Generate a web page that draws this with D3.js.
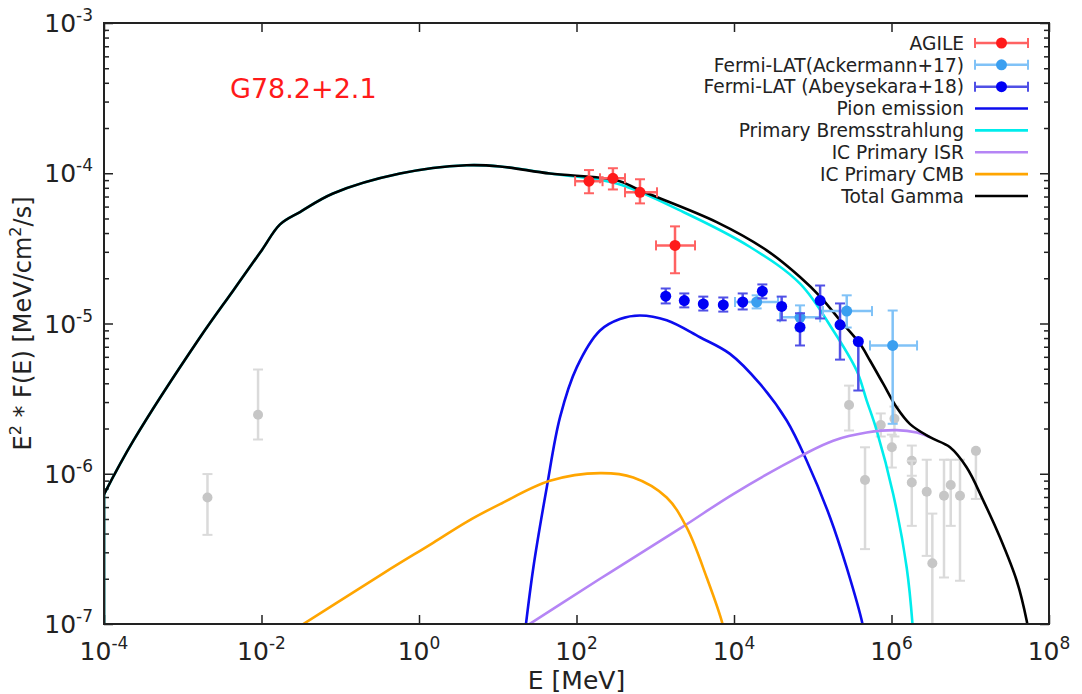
<!DOCTYPE html>
<html>
<head>
<meta charset="utf-8">
<script src="https://cdn.jsdelivr.net/npm/d3@7"></script>
<style>
  body { margin: 0; background: #fff; }
  text { font-family: 'DejaVu Sans', sans-serif; fill: #222; }
</style>
</head>
<body>
<svg id="chart" width="1082" height="694"></svg>
<script>
// axis ticks
const xTicks = [1e-4, 1e-2, 1, 1e2, 1e4, 1e6, 1e8];
const yTicks = [1e-7, 1e-6, 1e-5, 1e-4, 1e-3];

// data points: [E, F, Elo, Ehi, Flo, Fhi]
const agile = [
  [144, 8.85e-5, 96, 214, 7.36e-5, 1.05e-4],
  [290, 9.26e-5, 199, 413, 7.8e-5, 1.08e-4],
  [640, 7.47e-5, 413, 1052, 6.3e-5, 9.12e-5],
  [1782, 3.31e-5, 1023, 3200, 2.16e-5, 4.43e-5]
];
const ackermann = [
  [1.94e4, 1.39e-5, 1.03e4, 3.62e4, 1.26e-5, 1.54e-5],
  [6.89e4, 1.10e-5, 3.84e4, 1.24e5, 8.98e-6, 1.32e-5],
  [2.7e5, 1.21e-5, 1.35e5, 5.65e5, 9.4e-6, 1.54e-5],
  [1.035e6, 7.14e-6, 5.33e5, 2.11e6, 2.15e-6, 1.22e-5]
];
const abeysekara = [
  [1358, 1.52e-5, null, null, 1.36e-5, 1.71e-5],
  [2338, 1.42e-5, null, null, 1.28e-5, 1.585e-5],
  [4074, 1.35e-5, null, null, 1.22e-5, 1.51e-5],
  [7311, 1.33e-5, null, null, 1.20e-5, 1.49e-5],
  [1.29e4, 1.39e-5, null, null, 1.24e-5, 1.585e-5],
  [2.29e4, 1.64e-5, null, null, 1.47e-5, 1.82e-5],
  [4.03e4, 1.30e-5, null, null, 1.05e-5, 1.51e-5],
  [6.89e4, 9.45e-6, null, null, 7.14e-6, 1.17e-5],
  [1.24e5, 1.42e-5, null, null, 1.08e-5, 1.79e-5],
  [2.22e5, 9.8e-6, null, null, 5.75e-6, 1.36e-5],
  [3.79e5, 7.59e-6, null, null, 3.58e-6, 7.59e-6]
];
const oldData = [
  [2.06e-3, 6.95e-7, null, null, 3.92e-7, 9.95e-7],
  [9.04e-3, 2.47e-6, null, null, 1.69e-6, 4.94e-6],
  [2.89e5, 2.87e-6, null, null, 1.94e-6, 3.86e-6],
  [4.61e5, 9.08e-7, null, null, 3.15e-7, 1.50e-6],
  [7.3e5, 2.11e-6, null, null, 1.77e-6, 2.52e-6],
  [1.01e6, 1.50e-6, null, null, 1.10e-6, 1.82e-6],
  [1.09e6, 2.32e-6, null, null, 1.77e-6, 2.8e-6],
  [1.81e6, 1.22e-6, null, null, 9.7e-7, 1.54e-6],
  [1.81e6, 8.75e-7, null, null, 4.5e-7, 1.22e-6],
  [2.8e6, 7.59e-7, null, null, 2.84e-7, 1.24e-6],
  [3.3e6, 2.54e-7, null, null, 8e-8, 5.43e-7],
  [4.64e6, 7.13e-7, null, null, 2.04e-7, 1.24e-6],
  [5.65e6, 8.41e-7, null, null, 4.5e-7, 1.24e-6],
  [7.41e6, 7.13e-7, null, null, 1.94e-7, 1.24e-6],
  [1.18e7, 1.42e-6, null, null, 6.8e-7, 1.42e-6]
];

// model curves: [E, E^2 F(E)]
const pion = [
  [21.5, 7.7e-8], [28.3, 2.37e-7], [41.9, 8.1e-7], [61.7, 2.37e-6], [101, 5.12e-6],
  [199, 8.98e-6], [356, 1.07e-5], [640, 1.13e-5], [1397, 1.05e-5], [3700, 8.1e-6],
  [8890, 6.28e-6], [2.14e4, 3.96e-6], [4.67e4, 2.26e-6], [8.38e4, 1.22e-6],
  [1.66e5, 5.12e-7], [2.7e5, 2.37e-7], [4.31e5, 9.85e-8], [4.6e5, 7.7e-8]
];
const brems = [
  [1e-4, 7.3e-7], [2.36e-4, 1.66e-6], [1.66e-3, 8.1e-6], [4.38e-3, 1.66e-5], [0.01014, 3.09e-5],
  [0.0172, 4.57e-5], [0.0308, 5.52e-5], [0.081, 7.33e-5], [0.574, 9.95e-5], [4.04, 1.13e-4],
  [10.7, 1.11e-4], [46, 9.95e-5], [324, 8.54e-5], [2270, 5.52e-5], [1.6e4, 3.23e-5],
  [6.89e4, 1.84e-5], [1.82e5, 8.98e-6], [3.61e5, 4.86e-6], [4.84e5, 3.07e-6], [6.49e5, 1.94e-6],
  [1.05e6, 7.33e-7], [1.56e6, 2.37e-7], [1.86e6, 9.55e-8], [1.95e6, 6e-8]
];
const icIsr = [
  [11.7, 7.7e-8], [199, 2.0e-7], [2168, 4.39e-7], [9790, 7.33e-7], [7.59e4, 1.34e-6],
  [1.82e5, 1.66e-6], [4.84e5, 1.88e-6], [1.16e6, 1.95e-6], [2.09e6, 1.88e-6], [3.08e6, 1.75e-6]
];
const icCmb = [
  [0.01556, 7.7e-8], [0.36, 2.19e-7], [1.51, 3.47e-7], [4.04, 4.79e-7], [10.7, 6.28e-7],
  [46, 8.98e-7], [199, 1.01e-6], [526, 9.45e-7], [1397, 6.95e-7], [2506, 4.39e-7],
  [4500, 2.04e-7], [7200, 9.85e-8], [7690, 7.7e-8]
];
const totalGamma = [
  [1e-4, 7.3e-7], [2.36e-4, 1.66e-6], [1.66e-3, 8.1e-6], [4.38e-3, 1.66e-5], [0.01014, 3.09e-5],
  [0.0172, 4.57e-5], [0.0308, 5.52e-5], [0.081, 7.33e-5], [0.574, 9.95e-5], [4.04, 1.13e-4],
  [10.7, 1.11e-4], [46, 9.95e-5], [324, 8.98e-5], [640, 7.7e-5], [6030, 4.73e-5], [2.6e4, 3.07e-5],
  [6.89e4, 2.04e-5], [1.26e5, 1.5e-5], [2.22e5, 1.05e-5], [3.98e5, 7.33e-6],
  [5.33e5, 5.67e-6], [7.87e5, 3.96e-6], [1.16e6, 2.77e-6], [1.72e6, 2.14e-6],
  [3.08e6, 1.75e-6], [5.53e6, 1.5e-6], [9.02e6, 1.1e-6], [1.47e7, 6.6e-7],
  [2.39e7, 3.76e-7], [3.89e7, 1.94e-7], [5.21e7, 1.05e-7], [5.74e7, 7.7e-8]
];

const pointSeries = [
  {name: 'AGILE', data: agile, dot: '#ff1a1a', bar: '#ff6262'},
  {name: 'Fermi-LAT(Ackermann+17)', data: ackermann, dot: '#3a9ff0', bar: '#80c2f7'},
  {name: 'Fermi-LAT (Abeysekara+18)', data: abeysekara, dot: '#0000f5', bar: '#5050e6'}
];
const curveSeries = [
  {name: 'Pion emission', data: pion, color: '#0c0cee'},
  {name: 'Primary Bremsstrahlung', data: brems, color: '#00ecec'},
  {name: 'IC Primary ISR', data: icIsr, color: '#b585f5'},
  {name: 'IC Primary CMB', data: icCmb, color: '#ffa500'},
  {name: 'Total Gamma', data: totalGamma, color: '#000000'}
];

const svg = d3.select('#chart');
const plotL = 104, plotR = 1049, plotT = 23, plotB = 624;
const x = d3.scaleLog().domain([1e-4, 1e8]).range([plotL, plotR]);
const y = d3.scaleLog().domain([1e-7, 1e-3]).range([plotB, plotT]);

svg.append('defs').append('clipPath').attr('id', 'plotClip')
  .append('rect').attr('x', plotL).attr('y', plotT)
  .attr('width', plotR - plotL).attr('height', plotB - plotT);

// ticks (pointing inwards, mirrored on all sides)
const minorY = [];
for (let e = -7; e < -3; e++) {
  for (let k = 2; k <= 9; k++) minorY.push(k * Math.pow(10, e));
}
function tickStyle(g) {
  g.select('.domain').remove();
  g.selectAll('text').remove();
  g.selectAll('line').attr('stroke', '#222').attr('stroke-width', 1.5);
}
svg.append('g').attr('transform', `translate(0,${plotB})`)
  .call(d3.axisBottom(x).tickValues(xTicks).tickSize(-9)).call(tickStyle);
svg.append('g').attr('transform', `translate(0,${plotT})`)
  .call(d3.axisTop(x).tickValues(xTicks).tickSize(-9)).call(tickStyle);
svg.append('g').attr('transform', `translate(${plotL},0)`)
  .call(d3.axisLeft(y).tickValues(yTicks).tickSize(-9)).call(tickStyle);
svg.append('g').attr('transform', `translate(${plotL},0)`)
  .call(d3.axisLeft(y).tickValues(minorY).tickSize(-5)).call(tickStyle);
svg.append('g').attr('transform', `translate(${plotR},0)`)
  .call(d3.axisRight(y).tickValues(yTicks).tickSize(-9)).call(tickStyle);
svg.append('g').attr('transform', `translate(${plotR},0)`)
  .call(d3.axisRight(y).tickValues(minorY).tickSize(-5)).call(tickStyle);

// tick labels as 10^n
function powLabel(sel) {
  sel.each(function(d) {
    const t = d3.select(this);
    t.append('tspan').text('10');
    t.append('tspan').attr('dy', -11).attr('font-size', 17).text(Math.round(Math.log10(d)));
  });
}
svg.append('g').selectAll('text').data(xTicks).join('text')
  .attr('x', d => x(d)).attr('y', 660).attr('text-anchor', 'middle')
  .attr('font-size', 25).call(powLabel);
svg.append('g').selectAll('text').data(yTicks).join('text')
  .attr('x', 93).attr('y', d => y(d) + 9).attr('text-anchor', 'end')
  .attr('font-size', 25).call(powLabel);

// axis titles
svg.append('text').attr('x', (plotL + plotR) / 2).attr('y', 689)
  .attr('text-anchor', 'middle').attr('font-size', 25).text('E [MeV]');
const yTitle = svg.append('text')
  .attr('transform', `translate(31,${(plotT + plotB) / 2}) rotate(-90)`)
  .attr('text-anchor', 'middle').attr('font-size', 24);
yTitle.append('tspan').text('E');
yTitle.append('tspan').attr('dy', -10).attr('font-size', 16).text('2');
yTitle.append('tspan').attr('dy', 10).text(' * F(E) [MeV/cm');
yTitle.append('tspan').attr('dy', -10).attr('font-size', 16).text('2');
yTitle.append('tspan').attr('dy', 10).text('/s]');

const plot = svg.append('g').attr('clip-path', 'url(#plotClip)');

function drawPoints(g, data, dotColor, barColor, r) {
  const pts = g.append('g').selectAll('g').data(data).join('g');
  pts.append('line')
    .attr('x1', d => x(d[0])).attr('x2', d => x(d[0]))
    .attr('y1', d => y(d[4])).attr('y2', d => y(d[5]))
    .attr('stroke', barColor).attr('stroke-width', 2.5);
  pts.each(function(d) {
    const p = d3.select(this);
    for (const v of [d[4], d[5]]) {
      p.append('line').attr('x1', x(d[0]) - 5).attr('x2', x(d[0]) + 5)
        .attr('y1', y(v)).attr('y2', y(v))
        .attr('stroke', barColor).attr('stroke-width', 2);
    }
    if (d[2] != null) {
      p.append('line').attr('x1', x(d[2])).attr('x2', x(d[3]))
        .attr('y1', y(d[1])).attr('y2', y(d[1]))
        .attr('stroke', barColor).attr('stroke-width', 2.5);
      for (const v of [d[2], d[3]]) {
        p.append('line').attr('x1', x(v)).attr('x2', x(v))
          .attr('y1', y(d[1]) - 5).attr('y2', y(d[1]) + 5)
          .attr('stroke', barColor).attr('stroke-width', 2);
      }
    }
  });
  pts.append('circle').attr('cx', d => x(d[0])).attr('cy', d => y(d[1]))
    .attr('r', r).attr('fill', dotColor);
}

// old measurements (grey) sit under the model curves
drawPoints(plot, oldData, '#c6c6c6', '#dadada', 5);

const line = d3.line().x(d => x(d[0])).y(d => y(d[1])).curve(d3.curveCatmullRom.alpha(0.5));
for (const c of curveSeries) {
  // curves that start at the left edge drop straight down to the axis there
  if (c.data[0][0] === x.domain()[0]) {
    plot.append('line')
      .attr('x1', x(c.data[0][0])).attr('x2', x(c.data[0][0]))
      .attr('y1', y(c.data[0][1])).attr('y2', plotB)
      .attr('stroke', c.color).attr('stroke-width', 2.6);
  }
  plot.append('path').datum(c.data).attr('d', line)
    .attr('fill', 'none').attr('stroke', c.color).attr('stroke-width', 2.6);
}

drawPoints(plot, ackermann, pointSeries[1].dot, pointSeries[1].bar, 5.5);
drawPoints(plot, abeysekara, pointSeries[2].dot, pointSeries[2].bar, 5.5);
drawPoints(plot, agile, pointSeries[0].dot, pointSeries[0].bar, 5.5);

// frame
svg.append('rect').attr('x', plotL).attr('y', plotT)
  .attr('width', plotR - plotL).attr('height', plotB - plotT)
  .attr('fill', 'none').attr('stroke', '#222').attr('stroke-width', 2);

// source name
svg.append('text').attr('x', 230).attr('y', 98)
  .attr('font-family', "'Liberation Sans', Arial, sans-serif")
  .attr('font-size', 27).style('fill', '#ff1a1a').text('G78.2+2.1');

// legend
const legendY0 = 43, legendStep = 21.85, lx1 = 975, lx2 = 1028;
const legend = svg.append('g');
pointSeries.forEach((s, i) => {
  const ly = legendY0 + i * legendStep;
  legend.append('text').attr('x', 964).attr('y', ly).attr('dy', '0.36em')
    .attr('text-anchor', 'end').attr('font-size', 18.6).text(s.name);
  legend.append('line').attr('x1', lx1).attr('x2', lx2).attr('y1', ly).attr('y2', ly)
    .attr('stroke', s.bar).attr('stroke-width', 2.5);
  for (const v of [lx1, lx2]) {
    legend.append('line').attr('x1', v).attr('x2', v).attr('y1', ly - 5).attr('y2', ly + 5)
      .attr('stroke', s.bar).attr('stroke-width', 2);
  }
  legend.append('circle').attr('cx', (lx1 + lx2) / 2).attr('cy', ly).attr('r', 5.5).attr('fill', s.dot);
});
curveSeries.forEach((c, j) => {
  const ly = legendY0 + (j + 3) * legendStep;
  legend.append('text').attr('x', 964).attr('y', ly).attr('dy', '0.36em')
    .attr('text-anchor', 'end').attr('font-size', 18.6).text(c.name);
  legend.append('line').attr('x1', lx1).attr('x2', lx2).attr('y1', ly).attr('y2', ly)
    .attr('stroke', c.color).attr('stroke-width', 2.6);
});
</script>
</body>
</html>
